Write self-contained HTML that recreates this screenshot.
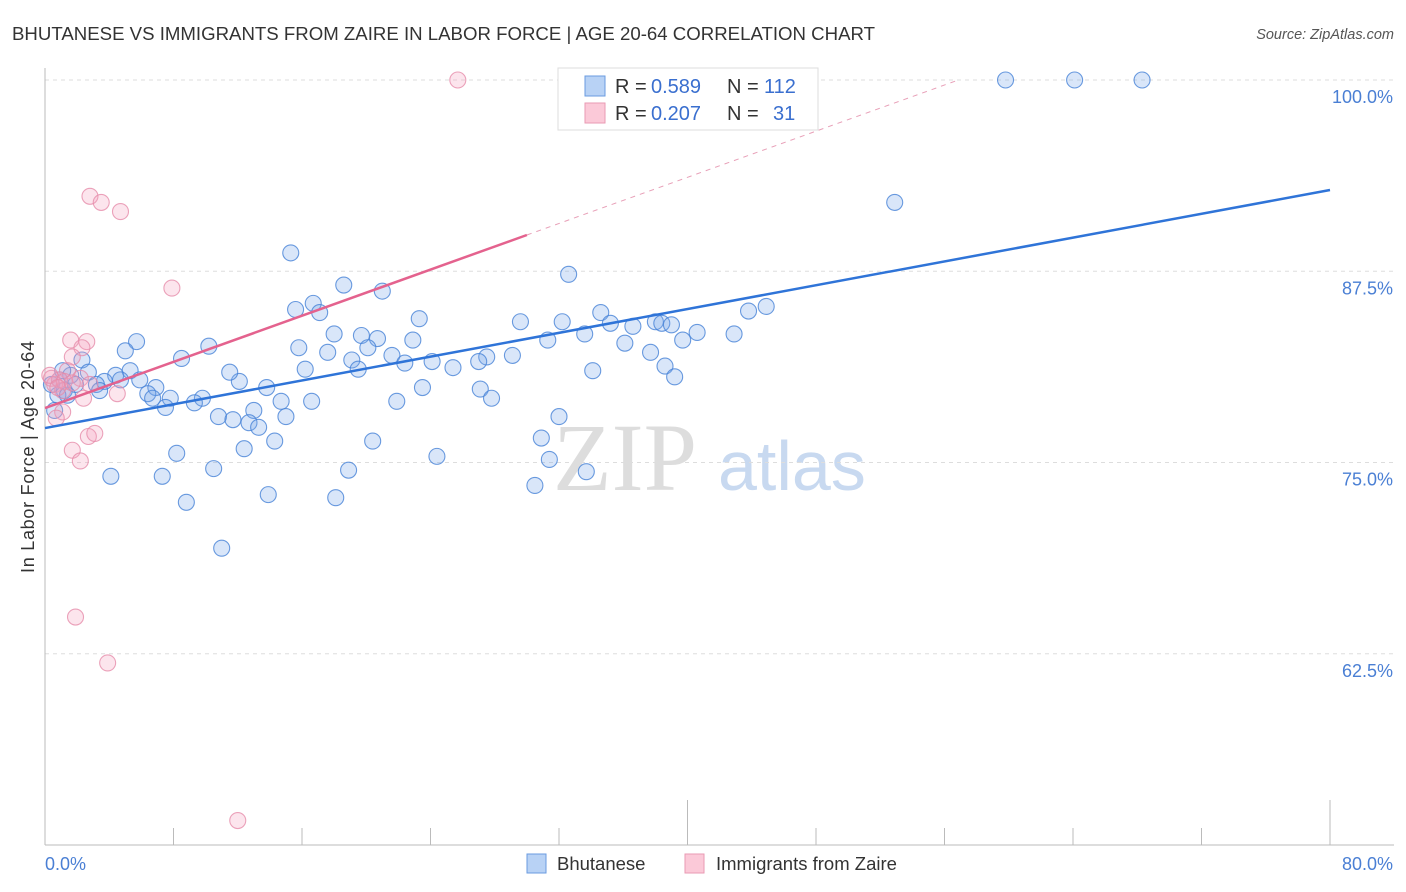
<!DOCTYPE html>
<html><head><meta charset="utf-8"><style>
body{margin:0;background:#fff;font-family:"Liberation Sans",sans-serif}
svg{display:block}
</style></head><body>
<svg id="chart" width="1406" height="892" xmlns="http://www.w3.org/2000/svg">
<text x="12" y="40" font-size="18" fill="#333" textLength="863" lengthAdjust="spacingAndGlyphs">BHUTANESE VS IMMIGRANTS FROM ZAIRE IN LABOR FORCE | AGE 20-64 CORRELATION CHART</text>
<text x="1394" y="39" font-size="14.5" fill="#555" font-style="italic" text-anchor="end">Source: ZipAtlas.com</text>
<text transform="translate(34,457) rotate(-90)" font-size="18" fill="#333" text-anchor="middle" textLength="232">In Labor Force | Age 20-64</text>
<g>
<text x="553" y="490" font-size="96" fill="#ddd" font-family="Liberation Serif,serif">ZIP</text>
<text x="718" y="490" font-size="70" fill="#c8d9f0">atlas</text>
</g>
<g id="grid"></g><g id="axes"></g><g id="marks"></g>
<g>
<rect x="558" y="68" width="260" height="62" fill="#fff" stroke="#ddd"/>
<rect x="585" y="76" width="20" height="20" fill="#b8d2f5" stroke="#6a9be0"/>
<rect x="585" y="103" width="20" height="20" fill="#fbc9d8" stroke="#e99ab3"/>
<g font-size="20" fill="#333">
<text x="615" y="93">R =</text>
<text x="651" y="93" fill="#3a6fcf">0.589</text>
<text x="727" y="93">N =</text>
<text x="764" y="93" fill="#3a6fcf">112</text>
<text x="615" y="120">R =</text>
<text x="651" y="120" fill="#3a6fcf">0.207</text>
<text x="727" y="120">N =</text>
<text x="773" y="120" fill="#3a6fcf">31</text>
</g>
</g>
<g>
<rect x="527" y="854" width="19" height="19" fill="#b8d2f5" stroke="#6a9be0"/>
<text x="557" y="870" font-size="18.5" fill="#333">Bhutanese</text>
<rect x="685" y="854" width="19" height="19" fill="#fbc9d8" stroke="#e99ab3"/>
<text x="716" y="870" font-size="18.5" fill="#333">Immigrants from Zaire</text>
</g>
</svg>
<script>
const yTicks=[100,87.5,75,62.5];
const yTickLabels=["100.0%","87.5%","75.0%","62.5%"];
const xTickVals=[0,8,16,24,32,40,48,56,64,72,80];
const blueX=[59.8,64.1,68.3,52.9,15.3,32.6,18.6,21.0,15.6,16.7,17.1,34.6,43.8,44.9,23.3,29.6,32.2,35.2,36.6,38.0,38.4,39.0,40.6,42.9,33.6,31.3,39.7,36.1,5.7,10.2,18.0,19.7,20.7,22.9,15.8,20.1,17.6,21.6,27.5,29.1,37.7,5.0,8.5,19.1,22.4,24.1,27.0,38.6,2.3,16.2,19.5,25.4,34.1,39.2,2.7,4.4,5.3,3.7,4.7,3.2,5.9,12.1,11.5,13.8,6.9,6.4,6.7,7.8,23.5,27.1,3.4,9.8,9.3,16.6,14.7,21.9,27.8,7.5,13.0,10.8,11.7,12.7,13.3,15.0,32.0,14.3,20.4,30.9,12.4,8.2,24.4,31.4,4.1,7.3,10.5,18.9,33.7,8.8,13.9,18.1,30.5,11.0,0.9,1.2,1.6,0.8,1.9,0.6,1.1,0.4,1.4];
const blueY=[100,100,100,92.0,88.7,87.3,86.6,86.2,85.0,85.4,84.8,84.8,84.9,85.2,84.4,84.2,84.2,84.1,83.9,84.2,84.1,84.0,83.5,83.4,83.4,83.0,83.0,82.8,82.9,82.6,83.4,83.3,83.1,83.0,82.5,82.5,82.2,82.0,81.9,82.0,82.2,82.3,81.8,81.7,81.5,81.6,81.6,81.3,81.7,81.1,81.1,81.2,81.0,80.6,80.9,80.7,81.0,80.3,80.4,80.1,80.4,80.3,80.9,79.9,79.9,79.5,79.2,79.2,79.9,79.8,79.7,79.2,78.9,79.0,79.0,79.0,79.2,78.6,78.4,78.0,77.8,77.6,77.3,78.0,78.0,76.4,76.4,76.6,75.9,75.6,75.4,75.2,74.1,74.1,74.6,74.5,74.4,72.4,72.9,72.7,73.5,69.4,80.4,79.7,80.7,79.4,80.1,78.4,81.0,80.1,79.4];
const pinkX=[25.7,2.8,3.5,4.7,7.9,1.6,2.6,2.3,1.7,1.4,2.2,2.8,0.9,0.4,0.6,1.1,4.5,2.4,1.1,0.7,2.7,3.1,1.7,2.2,1.9,3.9,12.0,0.3,1.2,0.8,1.7];
const pinkY=[100,92.4,92.0,91.4,86.4,83.0,82.9,82.5,81.9,81.0,80.5,80.1,80.4,80.5,80.1,79.7,79.5,79.2,78.3,77.9,76.7,76.9,75.8,75.1,64.9,61.9,51.6,80.7,80.3,79.9,80.2];
const blueTrend=[77.25,92.81];   // y at x=0 and x=80
const pinkTrend=[78.56,0.377];   // intercept, slope
const pinkSolidEnd=30;

const NS="http://www.w3.org/2000/svg";
const X0=45,X1=1330,Y100=80,PX_PER=15.3;
const xs=v=>X0+(X1-X0)*v/80;
const ys=v=>Y100+(100-v)*PX_PER;
function mk(tag,attrs,parent){const e=document.createElementNS(NS,tag);for(const k in attrs)e.setAttribute(k,attrs[k]);document.getElementById(parent).appendChild(e);return e;}

yTicks.forEach((t,i)=>{
  const l=mk('line',{x1:X0,x2:1394,y1:ys(t),y2:ys(t),stroke:'#ddd','stroke-dasharray':'4,4'},'grid');
  
  
  const tx=mk('text',{x:1393,y:ys(t)+23,'font-size':18,fill:'#4a7fd4','text-anchor':'end'},'grid');
  tx.textContent=yTickLabels[i];
  
  
});
const ax=mk('line',{x1:X0,x2:X0,y1:68,y2:845,stroke:'#bbb'},'axes');


const bx=mk('line',{x1:X0,x2:1394,y1:845,y2:845,stroke:'#bbb'},'axes');


xTickVals.forEach(v=>{
  const big=(v===40||v===80);
  const t=mk('line',{x1:xs(v),x2:xs(v),y1:big?800:828,y2:845,stroke:'#bbb'},'axes');
  
  
});
const xl0=mk('text',{x:45,y:870,'font-size':18,fill:'#4a7fd4'},'axes');xl0.textContent='0.0%';


const xl1=mk('text',{x:1393,y:870,'font-size':18,fill:'#4a7fd4','text-anchor':'end'},'axes');xl1.textContent='80.0%';



blueX.forEach((x,i)=>{
  const c=mk('circle',{cx:xs(x),cy:ys(blueY[i]),r:8,fill:'rgba(120,165,235,0.28)',stroke:'rgba(70,130,215,0.8)','stroke-width':1.1},'marks');
  
  
});
pinkX.forEach((x,i)=>{
  const c=mk('circle',{cx:xs(x),cy:ys(pinkY[i]),r:8,fill:'rgba(245,160,190,0.28)',stroke:'rgba(230,140,170,0.8)','stroke-width':1.1},'marks');
  
  
});
const bl=mk('line',{x1:xs(0),y1:ys(blueTrend[0]),x2:xs(80),y2:ys(blueTrend[1]),stroke:'#2f74d8','stroke-width':2.5},'marks');


const pf=x=>pinkTrend[0]+pinkTrend[1]*x;
const xEnd=(100-pinkTrend[0])/pinkTrend[1];
const pd=mk('line',{x1:xs(pinkSolidEnd),y1:ys(pf(pinkSolidEnd)),x2:xs(xEnd),y2:ys(100),stroke:'#e8a0b8','stroke-width':1,'stroke-dasharray':'5,5'},'marks');


const pl=mk('line',{x1:xs(0),y1:ys(pf(0)),x2:xs(pinkSolidEnd),y2:ys(pf(pinkSolidEnd)),stroke:'#e4628e','stroke-width':2.5},'marks');


</script>
</body></html>
